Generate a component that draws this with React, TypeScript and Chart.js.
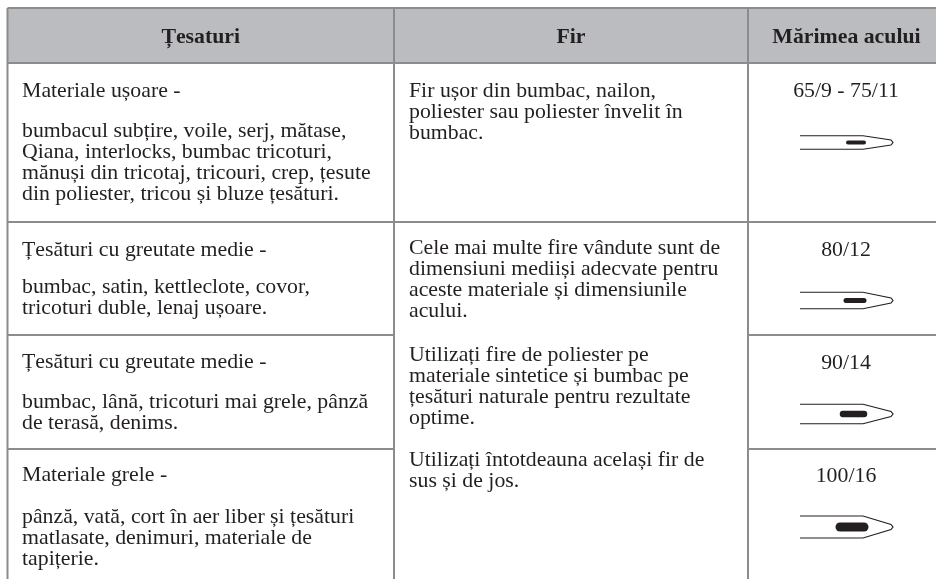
import React, { useEffect, useRef } from "react";
import { Chart, registerables } from "chart.js";

Chart.register(...registerables);

// ---- table content ----
const headers = ["Țesaturi", "Fir", "Mărimea acului"];
const fabricRows = [
  [["Materiale ușoare -"], ["bumbacul subțire, voile, serj, mătase,", "Qiana, interlocks, bumbac tricoturi,", "mănuși din tricotaj, tricouri, crep, țesute", "din poliester, tricou și bluze țesături."]],
  [["Țesături cu greutate medie -"], ["bumbac, satin, kettleclote, covor,", "tricoturi duble, lenaj ușoare."]],
  [["Țesături cu greutate medie -"], ["bumbac, lână, tricoturi mai grele, pânză", "de terasă, denims."]],
  [["Materiale grele -"], ["pânză, vată, cort în aer liber și țesături", "matlasate, denimuri, materiale de", "tapițerie."]],
];
const threadCells = [
  [["Fir ușor din bumbac, nailon,", "poliester sau poliester învelit în", "bumbac."]],
  [
    ["Cele mai multe fire vândute sunt de", "dimensiuni mediiși adecvate pentru", "aceste materiale și dimensiunile", "acului."],
    ["Utilizați fire de poliester pe", "materiale sintetice și bumbac pe", "țesături naturale pentru rezultate", "optime."],
    ["Utilizați întotdeauna același fir de", "sus și de jos."],
  ],
];
const needleSizes = ["65/9 - 75/11", "80/12", "90/14", "100/16"];
const needleShaft = [13.5, 16.5, 19.5, 22];
const needleEyeLength = [16, 18, 21, 24];
const needleEyeWidth = [4, 5, 6.5, 9];

// ---- table frame, in axis units ----
const columnEdges = [7.5, 394, 748, 936];
const rowEdges = [8, 63, 222, 335, 449, 579];
const fabricBaselines = [[97, 137], [256, 293], [368, 408], [481, 523]];
const threadBaselines = [[97], [254, 361, 466]];
const sizeBaselines = [97, 256, 369, 482];
const needleCentres = [142.5, 300.5, 414, 527];
const LINE = 21;
const INK = "#231f20";
const RULE = "#8b8c8e";
const FONT = '"Liberation Serif", serif';

const seg = (x0: number, y0: number, x1: number, y1: number) => ({
  type: "line" as const,
  data: [{ x: x0, y: y0 }, { x: x1, y: y1 }],
  borderColor: RULE,
  borderWidth: 2,
  pointRadius: 0,
  fill: false,
});

const tablePlugin = {
  id: "tableText",
  beforeDatasetsDraw(chart: any) {
    const { ctx, scales } = chart;
    const X = scales.x, Y = scales.y;
    ctx.save();
    ctx.fillStyle = "#bbbcbf";
    ctx.fillRect(X.getPixelForValue(columnEdges[0]), Y.getPixelForValue(rowEdges[0]), X.getPixelForValue(columnEdges[3]) - X.getPixelForValue(columnEdges[0]), Y.getPixelForValue(rowEdges[1]) - Y.getPixelForValue(rowEdges[0]));
    ctx.restore();
  },
  afterDatasetsDraw(chart: any) {
    const { ctx, scales } = chart;
    const X = scales.x, Y = scales.y;
    ctx.save();
    ctx.fillStyle = INK;
    ctx.textBaseline = "alphabetic";
    ctx.font = `bold 21.8px ${FONT}`;
    ctx.textAlign = "center";
    headers.forEach((h, i) => {
      ctx.fillText(h, X.getPixelForValue((columnEdges[i] + columnEdges[i + 1]) / 2 + (i === 2 ? 4.5 : 0)), Y.getPixelForValue(43));
    });
    ctx.font = `21.8px ${FONT}`;
    ctx.textAlign = "left";
    const para = (paras: string[][], bases: number[], x: number) => {
      paras.forEach((lines, p) => lines.forEach((t, l) => {
        ctx.fillText(t, X.getPixelForValue(x), Y.getPixelForValue(bases[p] + l * LINE));
      }));
    };
    fabricRows.forEach((paras, r) => para(paras, fabricBaselines[r], 22));
    threadCells.forEach((paras, r) => para(paras, threadBaselines[r], 409));
    ctx.textAlign = "center";
    needleSizes.forEach((s, i) => ctx.fillText(s, X.getPixelForValue(846), Y.getPixelForValue(sizeBaselines[i])));
    ctx.restore();
  },
};

const frameDatasets = [
  seg(columnEdges[0], rowEdges[0], columnEdges[3], rowEdges[0]),
  seg(columnEdges[0], rowEdges[1], columnEdges[3], rowEdges[1]),
  seg(columnEdges[0], rowEdges[2], columnEdges[3], rowEdges[2]),
  seg(columnEdges[0], rowEdges[3], columnEdges[1], rowEdges[3]),
  seg(columnEdges[2], rowEdges[3], columnEdges[3], rowEdges[3]),
  seg(columnEdges[0], rowEdges[4], columnEdges[1], rowEdges[4]),
  seg(columnEdges[2], rowEdges[4], columnEdges[3], rowEdges[4]),
  seg(columnEdges[0], rowEdges[0], columnEdges[0], rowEdges[5]),
  seg(columnEdges[1], rowEdges[0], columnEdges[1], rowEdges[5]),
  seg(columnEdges[2], rowEdges[0], columnEdges[2], rowEdges[5]),
];

const needleDatasets = needleSizes.flatMap((_, i) => {
  const c = needleCentres[i];
  const h = needleShaft[i] / 2;
  const outline = {
    type: "line" as const,
    data: [
      { x: 800, y: c - h }, { x: 863, y: c - h }, { x: 891, y: c - 2.5 }, { x: 893, y: c },
      { x: 891, y: c + 2.5 }, { x: 863, y: c + h }, { x: 800, y: c + h },
    ],
    borderColor: INK,
    borderWidth: 1.2,
    pointRadius: 0,
    fill: false,
  };
  const eye = {
    type: "line" as const,
    data: [{ x: 864 - needleEyeLength[i], y: c }, { x: 864, y: c }],
    borderColor: INK,
    borderWidth: needleEyeWidth[i],
    borderCapStyle: "round" as const,
    pointRadius: 0,
    fill: false,
  };
  return [outline, eye];
});

export default function App() {
  const ref = useRef<HTMLCanvasElement>(null);
  useEffect(() => {
    document.body.style.margin = "0";
    document.body.style.background = "#ffffff";
    const chart = new Chart(ref.current!, {
      type: "scatter",
      data: { datasets: [...frameDatasets, ...needleDatasets] as any },
      options: {
        animation: false,
        responsive: false,
        showLine: true,
        layout: { padding: 0 },
        plugins: { legend: { display: false }, tooltip: { enabled: false }, title: { display: false } },
        scales: {
          x: { type: "linear", display: false, min: 0, max: 936 },
          y: { type: "linear", display: false, min: 0, max: 579, reverse: true },
        },
      } as any,
      plugins: [tablePlugin],
    });
    return () => chart.destroy();
  }, []);
  return <canvas ref={ref} width={936} height={579} style={{ display: "block", width: 936, height: 579 }} />;
}
